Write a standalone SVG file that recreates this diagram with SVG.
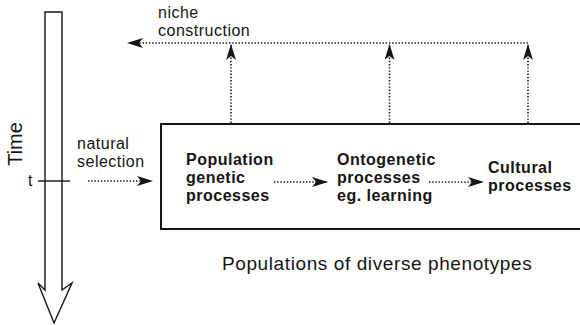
<svg xmlns="http://www.w3.org/2000/svg" width="580" height="325" viewBox="0 0 580 325">
<style>
.t{font-family:"Liberation Sans",Arial,sans-serif;fill:#151515;}
.n{font-size:16px;letter-spacing:0.5px;}
.b{font-size:16px;font-weight:bold;letter-spacing:0.5px;}
.dot{stroke:#151515;stroke-width:1.6;stroke-dasharray:1.4 1.8;fill:none;}
.solid{stroke:#151515;fill:none;}
</style>
<defs>
<marker id="ah" viewBox="0 0 16 10" refX="15" refY="5" markerWidth="16" markerHeight="10" markerUnits="userSpaceOnUse" orient="auto">
<path d="M0,0 L16,5 L0,10 L4,5 z" fill="#151515"/>
</marker>
</defs>
<g id="time">
<path class="solid" stroke-width="1.4" d="M45,290 L45,12 L62,12 L62,290 L72,283 L54,323 L38,283 Z"/>
<text class="t" font-size="20" transform="translate(22,144) rotate(-90)" text-anchor="middle">Time</text>
<line class="solid" stroke-width="1.4" x1="38" y1="181" x2="70" y2="181"/>
<text class="t" font-size="16" x="28" y="186">t</text>
</g>
<g id="box">
<rect class="solid" stroke-width="2" x="161" y="124" width="430" height="105"/>
</g>
<g id="popgen">
<text class="t b"><tspan x="186" y="165">Population</tspan><tspan x="186" y="183">genetic</tspan><tspan x="186" y="201">processes</tspan></text>
</g>
<g id="onto">
<text class="t b"><tspan x="337" y="165">Ontogenetic</tspan><tspan x="337" y="183">processes</tspan><tspan x="337" y="201">eg. learning</tspan></text>
</g>
<g id="cultural">
<text class="t b"><tspan x="488" y="173">Cultural</tspan><tspan x="488" y="191">processes</tspan></text>
</g>
<g id="labels">
<text class="t n"><tspan x="77" y="149">natural</tspan><tspan x="77" y="167">selection</tspan></text>
<text class="t n"><tspan x="158" y="18">niche</tspan><tspan x="158" y="36">construction</tspan></text>
<text class="t" font-size="19" letter-spacing="0.6" x="222" y="270">Populations of diverse phenotypes</text>
</g>
<g id="connectors">
<line class="dot" x1="88" y1="181" x2="152" y2="181" marker-end="url(#ah)"/>
<line class="dot" x1="274" y1="182" x2="327" y2="182" marker-end="url(#ah)"/>
<line class="dot" x1="429" y1="182" x2="483" y2="182" marker-end="url(#ah)"/>
<line class="dot" x1="231" y1="123" x2="231" y2="45" marker-end="url(#ah)"/>
<line class="dot" x1="389.5" y1="123" x2="389.5" y2="45" marker-end="url(#ah)"/>
<line class="dot" x1="528" y1="123" x2="528" y2="45" marker-end="url(#ah)"/>
<line class="dot" x1="528" y1="43" x2="128" y2="43" marker-end="url(#ah)"/>
</g>
</svg>
